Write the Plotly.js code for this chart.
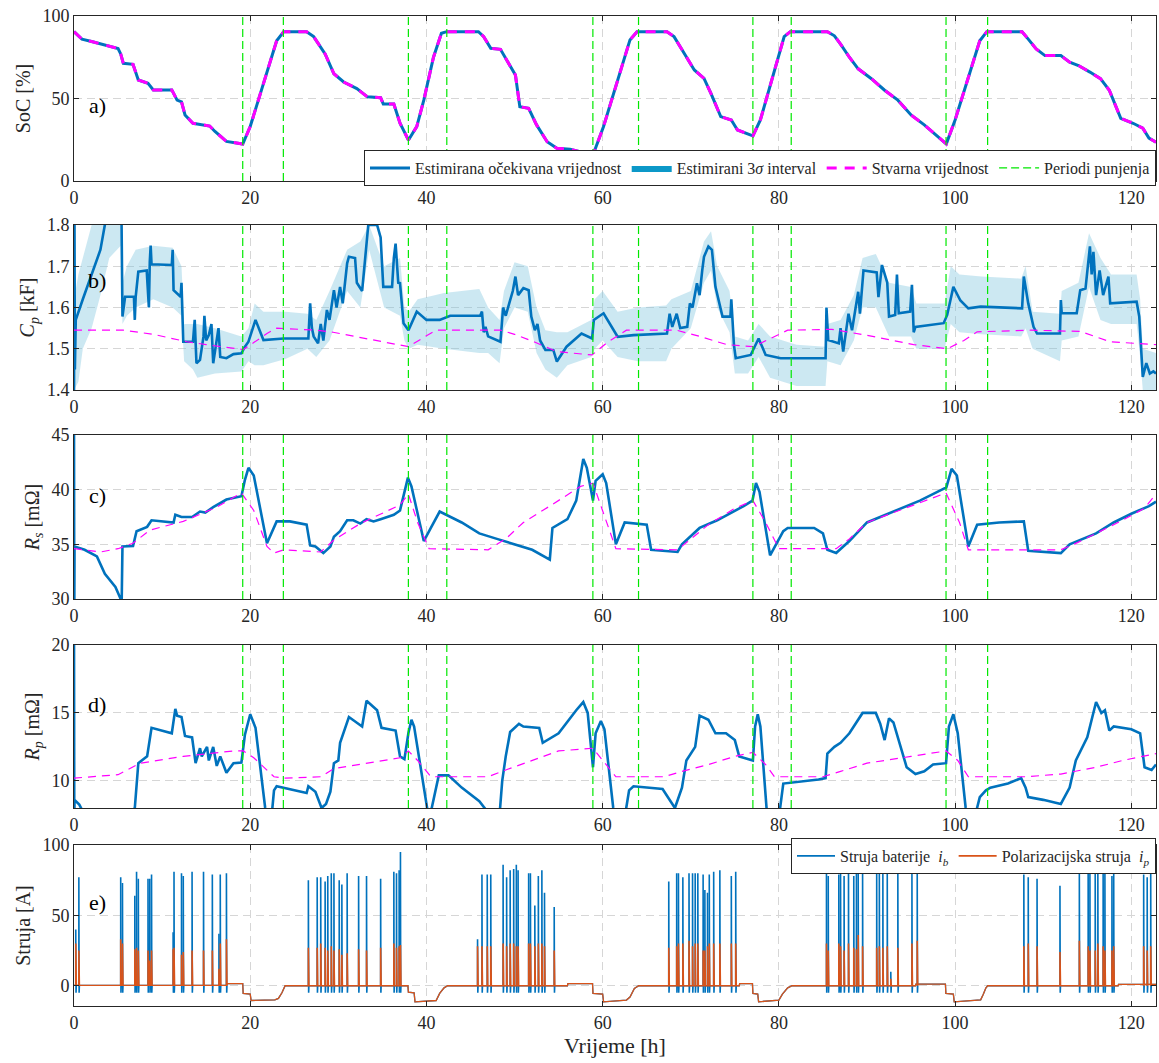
<!DOCTYPE html>
<html><head><meta charset="utf-8">
<script src="https://cdn.plot.ly/plotly-3.0.1.min.js"></script>
<style>body{margin:0;background:#fff}#g{width:1159px;height:1063px}</style>
</head><body><div id="g"></div>
<script>
// ---------- DATA ----------
const xTicks = [0,20,40,60,80,100,120];
const chargeT = [19.15,23.76,37.95,42.31,58.89,64.07,77.05,81.4,98.97,103.69];

// a) SoC [%]
const socT = [0,0.9,2,3,4,5,5.3,5.6,6.7,7.3,8.4,9.0,11.1,11.7,12.2,12.6,13.5,15.4,16.0,17.3,19.15,20.0,23.0,23.8,26.4,27.2,28.5,29.5,30.6,32.1,33.3,34.8,35.1,36.3,37.0,37.96,38.9,39.7,40.8,41.7,42.3,45.9,46.5,47.3,48.4,49.5,50.1,50.6,51.6,52.5,53.7,54.8,56.3,58.9,60.1,63.1,63.9,67.3,68.1,68.8,69.6,70.4,71.5,72.3,73.4,74.6,75.3,77.05,77.9,80.6,81.3,85.5,86.3,87,88,89,90.5,92,93.5,95,96.5,98,99.0,100,102.8,103.6,107.6,108.3,109.2,110.2,112,113,114,115.3,116.5,117.5,118.2,118.8,120.2,121.3,122,122.8];
const socEst = [90.5,86,84.5,83,81.5,80.3,77,71.3,70.7,61.2,59.2,55.2,55.2,49,48,40,35,33.3,30,24,22.4,33,85,90.5,90.5,87.5,77,65,60,56,51,50.5,46.7,46.7,35,24.8,33,49,75,89.5,90.5,90.5,87.5,80.4,79.8,69.3,64.2,45,44,34,23.8,19.8,19.2,15.8,33,85.5,90.5,90.5,87.5,81.4,74.3,67.3,62.2,53,39,37,30.9,27.3,37,87.5,90.5,90.5,88,83,75,68,62,55,49,40,34,27,22.5,37,85,90.5,90.5,86,80,76,76,72,70,66,62,55,46,38,35,32,26,23.5];
const socTrue = socEst;

// b) Cp [kF]
const cpT = [0,0.05,0.1,0.2,1,2,3,3.5,4.5,5.3,5.4,5.5,5.8,6.8,6.9,7.0,7.3,8.25,8.5,8.6,8.7,8.8,11.1,11.2,11.3,12.1,12.2,12.4,13.5,13.7,13.9,14.3,14.7,14.8,15.0,15.3,15.6,15.8,16.2,16.4,16.6,17.3,18.1,19.0,19.4,19.8,20.6,21.5,23.8,26.6,26.8,27.0,27.2,27.7,28.0,28.3,28.7,29.0,29.5,29.8,30.2,30.5,31.0,31.2,31.9,32.1,32.7,33.0,33.4,34.4,34.8,35.1,36.1,36.3,36.5,36.8,37.0,37.4,37.96,38.9,40.0,41.5,42.7,46.1,46.3,46.5,46.7,47.0,48.4,48.7,49.0,49.5,49.8,50.1,50.4,51.0,51.6,51.9,52.3,52.6,52.9,53.5,54.4,54.8,55.9,57.6,58.8,59.0,60.1,61.7,63.5,67.3,67.6,67.9,68.4,68.8,69.6,69.9,70.2,70.7,71.0,71.3,71.5,72.0,72.4,72.8,73.6,74.5,74.6,74.9,75.1,76.8,77.7,78.5,80.2,85.3,85.4,85.6,86.8,87.0,87.3,87.9,88.3,89.0,89.2,89.6,91.1,91.3,91.7,92.3,92.5,93.2,93.4,93.6,94.9,95.1,95.3,95.5,98.7,99.1,99.8,100.6,101.5,102.9,107.6,107.8,108.3,108.9,109.3,111.9,112.0,112.1,113.8,114.2,114.8,115.3,115.5,115.7,116.0,116.4,116.8,117.4,117.6,120.6,120.9,121.3,121.7,122.1,122.5,122.8];
const cpEst = [1.38,1.85,1.45,1.57,1.62,1.68,1.74,1.8,1.86,1.86,1.8,1.578,1.626,1.626,1.57,1.626,1.687,1.69,1.6,1.711,1.75,1.705,1.703,1.74,1.642,1.626,1.66,1.517,1.517,1.57,1.465,1.473,1.53,1.58,1.52,1.533,1.56,1.465,1.52,1.55,1.48,1.477,1.487,1.489,1.505,1.517,1.57,1.521,1.525,1.525,1.61,1.55,1.53,1.513,1.56,1.52,1.594,1.57,1.642,1.6,1.65,1.61,1.707,1.723,1.72,1.66,1.64,1.71,1.8,1.8,1.77,1.65,1.65,1.72,1.755,1.66,1.659,1.562,1.545,1.59,1.57,1.57,1.58,1.58,1.59,1.54,1.553,1.53,1.517,1.6,1.58,1.618,1.64,1.675,1.63,1.647,1.642,1.578,1.545,1.56,1.52,1.497,1.497,1.469,1.505,1.537,1.525,1.57,1.586,1.529,1.533,1.537,1.585,1.553,1.585,1.55,1.553,1.61,1.6,1.659,1.63,1.69,1.723,1.748,1.74,1.65,1.578,1.578,1.62,1.509,1.477,1.485,1.525,1.485,1.477,1.477,1.6,1.521,1.513,1.55,1.493,1.585,1.545,1.638,1.585,1.69,1.685,1.625,1.703,1.66,1.578,1.582,1.68,1.586,1.59,1.655,1.54,1.553,1.562,1.582,1.65,1.617,1.598,1.602,1.598,1.675,1.61,1.553,1.537,1.537,1.618,1.586,1.586,1.642,1.646,1.748,1.68,1.735,1.63,1.69,1.63,1.675,1.61,1.614,1.578,1.432,1.465,1.44,1.445,1.44];
const cpBandT = [0,0.5,1,2,3,4,5.3,5.5,6,7,9,11.2,12.2,12.5,13.5,14,16,19,19.8,20.5,21.5,24,26.5,27.5,29,31,32.5,33.5,35.2,37,37.5,38,39,42,46,47,48.3,48.8,50,51.5,52.5,53.5,54.8,56,58.7,59.1,60,61.7,64,67.2,67.8,70,71.5,72.3,73,74.4,75,76.5,77.7,79,82,85.3,85.5,87,88.5,89.5,91,92.5,95,95.6,98.8,99.5,100.5,103,107.5,108,108.8,111.9,112.1,114,115.2,116.5,117.7,120.6,121,121.3,122.8];
const cpLo = [1.4,1.42,1.5,1.55,1.63,1.72,1.75,1.56,1.58,1.6,1.62,1.6,1.58,1.47,1.45,1.43,1.44,1.445,1.47,1.46,1.46,1.475,1.5,1.48,1.52,1.64,1.6,1.74,1.6,1.58,1.52,1.5,1.51,1.5,1.49,1.49,1.465,1.55,1.6,1.59,1.49,1.45,1.43,1.46,1.48,1.5,1.52,1.48,1.47,1.47,1.5,1.55,1.66,1.69,1.6,1.54,1.44,1.44,1.48,1.43,1.41,1.41,1.47,1.46,1.52,1.6,1.6,1.53,1.53,1.5,1.5,1.56,1.54,1.535,1.53,1.55,1.5,1.47,1.52,1.53,1.65,1.57,1.56,1.56,1.48,1.4,1.4];
const cpHi = [1.62,1.68,1.72,1.8,1.8,1.8,1.8,1.66,1.7,1.74,1.75,1.745,1.7,1.56,1.56,1.56,1.55,1.53,1.55,1.61,1.59,1.59,1.585,1.57,1.64,1.74,1.76,1.8,1.7,1.72,1.6,1.59,1.62,1.635,1.645,1.6,1.57,1.64,1.71,1.7,1.6,1.545,1.54,1.54,1.57,1.62,1.64,1.59,1.6,1.605,1.62,1.64,1.76,1.785,1.7,1.64,1.53,1.52,1.56,1.53,1.51,1.505,1.56,1.57,1.63,1.72,1.73,1.66,1.65,1.61,1.61,1.7,1.68,1.675,1.67,1.7,1.59,1.585,1.64,1.66,1.78,1.72,1.68,1.68,1.62,1.5,1.49];
const cpTrueT = [0,5.6,9,12.8,15,18.1,19.2,20.4,21.9,23,27.5,29.4,33.2,37,37.96,39.5,41.1,48.4,50,52.2,54.8,58.8,60.5,62.7,68.4,71,74.1,77.1,79,81,86,89.9,95.3,99.1,101,102.5,108.6,114.2,117.6,122.8];
const cpTrue = [1.545,1.545,1.535,1.517,1.51,1.5,1.498,1.515,1.537,1.55,1.545,1.54,1.525,1.51,1.505,1.525,1.545,1.545,1.535,1.517,1.493,1.485,1.515,1.545,1.545,1.53,1.51,1.505,1.525,1.545,1.547,1.533,1.51,1.5,1.52,1.541,1.545,1.542,1.517,1.51];

// c) Rs [mOhm]
const rsT = [0,0.03,0.06,1.2,2.6,3.5,4.7,5.3,5.4,5.5,6.7,7.1,8.3,8.8,11.3,11.5,12.2,13.4,14.3,14.9,15.8,17.3,19.0,19.4,19.8,20.4,21.9,23.0,24.5,26.4,26.8,27.4,28.3,29.1,29.5,30.2,31.0,31.7,32.5,33.2,34.0,34.8,36.3,37.0,37.6,37.9,38.3,39.7,40.5,41.5,44,46,48,50,52,54,54.3,56,57,57.8,58.2,58.9,59.2,60,60.4,61.5,62.5,65,65.5,68.5,69,71,73,76,77,77.4,77.8,79,80.5,81,84,85,85.5,86.5,88,90,93,96,98.5,99.0,99.6,100.2,101.5,102.5,105,107.8,108.3,112,113,116,118,120,122,122.8];
const rsEst = [46,28,34.8,34.5,33.9,32.3,31.1,30,29,34.8,34.85,36.2,36.6,37.2,37,37.7,37.5,37.5,38,37.9,38.4,39.1,39.4,40.9,42,41.3,35.1,37.1,37.1,36.8,34.9,34.8,34.2,34.8,35.7,36.2,37.2,37.2,36.9,37.3,37.1,37.3,37.7,38.1,40,41.1,40.3,35.3,36.5,38,37,36,35.5,35,34.5,33.6,36.5,37.3,39,42.8,42,39,40.8,41.4,40.6,35,37,36.8,34.5,34.3,35,36.5,37.2,38.5,39,40.6,39.8,34,36.2,36.5,36.5,36,34.5,34.2,35.3,37,38,39,40,40.2,41.9,41.3,34.8,36.8,37,37.1,34.4,34.2,35,36,37,37.8,38.5,38.9];
const rsTrueT = [0,3,5,6.7,8.6,12.4,16.2,19.0,20.4,21.9,22.7,23.8,28,29.5,32.5,37,37.95,39,40.3,47,49,51,54,57.5,58.9,60,61.5,68.5,70,72,75,77.05,78.5,80,86.5,88,90,95,98.97,100.5,101.5,112,114,116,119,121.5,122.8];
const rsTrue = [34.6,34.3,34.6,35.1,36.3,37.1,38.4,39.7,38.1,34.8,34.2,34.5,34.3,35.4,36.9,38.6,39.6,37,34.6,34.5,35.5,37,38.5,40.3,40.6,38,34.6,34.5,35.5,36.8,38.3,39,37,34.6,34.6,35.5,37,38.5,39.7,37,34.5,34.5,35.2,36,37.2,38.3,39.6];

// d) Rp [mOhm]
const rpT = [0,0.03,0.06,0.6,1.2,6.8,6.9,7.3,8.3,8.8,11.1,11.5,11.7,12.2,12.6,13.4,13.8,14.3,14.5,15.1,15.3,15.8,16.2,16.6,17.3,18.1,19.0,19.4,20.0,20.6,21.7,22.0,22.4,22.7,23.0,26.4,26.6,27.4,28.1,28.6,29.1,29.5,30.0,30.2,31.2,32.7,33.2,34.4,34.9,36.5,37.0,37.5,37.95,38.3,38.6,40.2,40.6,41.4,42.5,44,46,47.2,48.3,48.6,49,49.5,50.5,51,52.8,53.2,55,57,57.8,58.3,58.9,59.2,59.8,60.2,61.2,61.5,62.5,63,63.5,66.8,67.2,68.2,69,69.5,70.5,71,72,72.8,74,75,75.5,76,77.05,77.3,77.6,77.9,78.6,79,80,80.5,83.5,84.5,85.3,85.5,86.3,87,88,89,89.5,91,91.5,92,92.5,93,93.5,94,94.5,95.5,96.5,97.5,98.97,99.3,99.8,100.3,101.2,101.5,102.3,102.8,103.5,104,106,107.5,108,108.3,110,112,113,113.7,114.2,115,116,116.6,117,117.5,118,120,121,121.5,122.3,122.8];
const rpEst = [21,7,8.6,8.25,7.5,7.5,8,11.3,11.8,13.9,13.5,15.3,14.8,14.7,13.3,13.2,11.3,12.4,11.8,12.5,11.5,12.5,11.1,11.8,10.6,11.3,11.35,13.4,14.9,13.9,8,7.2,7.2,9.3,9.6,9.1,9.6,9.2,8,8.3,9.2,11.3,11.5,12.8,14.7,14,15.9,15.2,13.9,13.7,11.8,11.6,13.5,14.5,14,7.5,8,10.4,10.4,9.5,8.5,7.5,7.5,10,11.8,13.6,14.2,14,13.9,12.8,13.5,15.2,15.8,15,11,13.5,14.4,13.8,8,7.3,7.3,9.3,9.6,9.4,9,8,9.5,11.5,12.5,14.8,14.5,13.5,13.5,13,11.8,11.7,11.5,14,14.9,14,8,7.3,7.3,9.8,10,10.1,10.2,12,12.5,12.8,13.5,14.5,15,15,14.2,13,14.6,14.3,13.2,12,11,10.5,10.7,11.2,11.3,14,14.9,13.5,8,7.3,7.5,8.8,9.3,9.5,9.8,10.2,9.5,8.8,8.6,8.3,9.5,11.5,12.2,13.2,15.8,15,15.2,13.7,14,13.8,13.5,11,10.8,11.2];
const rpTrueT = [0,5,7.5,12.4,18.1,19.2,20.4,22.7,23.8,28,29.5,33.2,37,37.95,39,40.5,47,49,52,55,58.9,60,61.5,67,69,72,75,77.05,78.5,79.5,85,87,90,95,98.97,100.3,101.5,108,112,116,119,122.8];
const rpTrue = [10.2,10.45,11.3,11.8,12.2,12.2,11.7,10.3,10.2,10.3,10.9,11.3,11.7,12.2,11.5,10.3,10.3,10.8,11.5,12.2,12.4,11.5,10.3,10.3,10.7,11.2,11.8,12.1,11.2,10.3,10.3,10.7,11.3,11.8,12.2,11.5,10.3,10.3,10.5,11,11.5,12];

// e) currents [A]
const curT = [0,17.3,17.35,19.15,19.2,20.0,20.1,22.8,23.2,23.6,23.96,37.9,37.95,38.6,38.7,41.1,41.5,42.0,42.4,56.0,56.05,58.85,58.9,60.0,60.1,62.7,63.1,63.6,64.1,75.5,75.55,77.0,77.05,77.6,77.7,80.0,80.4,81.0,81.5,95.5,95.55,98.9,98.95,99.8,99.9,102.9,103.2,103.5,103.7,118.5,118.55,122.8];
const curBase = [0.3,0.3,1.5,1.5,-5.5,-6,-10.5,-10,-9,-5,0,0,-4.5,-5,-11.4,-10.5,-5.5,-1.5,0,0,1.5,1.5,-5.5,-6,-11.4,-10.2,-8,-2,0,0,1.5,1.5,-5.5,-6,-11.4,-10.2,-6,-1.5,0,0,1.2,1.2,-5.5,-6,-11.4,-10,-6,-1.5,0,0,1,1];
const spikeT  = [0.2,0.55,5.3,5.5,6.9,7.1,7.3,8.4,8.6,8.8,11.25,11.35,12.2,12.4,13.4,14.7,15.7,16.45,16.6,17.3,26.6,27.6,28.0,28.5,28.8,29.2,29.5,30.1,30.4,31.0,32.3,33.2,34.8,36.3,36.6,36.9,37.05,45.8,46.3,46.9,47.3,48.7,49.1,49.5,49.9,50.2,50.4,51.6,51.8,52.3,52.7,53.1,53.4,54.5,67.5,68.4,68.6,69.1,69.8,70.2,70.5,70.8,71.4,71.6,71.9,72.1,72.6,73.3,74.6,75.1,85.4,85.6,86.8,87.0,87.4,87.9,88.5,88.8,89.0,89.5,91.1,91.4,91.8,92.3,92.7,93.5,95.1,95.7,107.8,108.3,109.3,111.9,114.1,115.1,115.3,115.9,116.2,116.8,117.0,117.8,118.0,121.4,121.8,122.2];
const spikeIb = [40,77,77,73,64,81,76,76,76,79,38,81,80,78,81,81,79,37,79,80,75,77,77,74,78,80,80,75,72,80,78,78,76,81,80,82,95,33,79,79,79,86,77,82,83,86,82,80,80,57,78,82,66,56,74,80,80,77,80,80,80,80,79,68,66,79,81,82,78,81,80,78,79,80,78,81,78,80,82,84,83,82,83,81,10,80,81,84,79,77,76,71,81,83,80,82,80,82,82,78,82,79,77,83];
const spikeIp = [30,25,33,30,26,27,25,25,18,25,26,27,22,24,25,25,25,12,30,33,27,27,30,27,25,28,25,26,22,23,26,25,27,30,27,28,29,28,28,28,28,30,28,30,30,28,28,30,30,28,30,30,28,25,27,28,30,30,32,28,30,30,25,25,28,30,30,30,30,30,30,25,30,28,25,30,27,26,36,28,27,28,27,28,5,27,30,32,28,30,28,24,32,28,25,25,30,28,25,25,28,28,25,28];
const spikeDip = -5;

// ---------- BUILD ----------
const FONT = '"Liberation Serif"';
const BLUE = '#0072BD', MAG = '#FF00FF', GREEN = 'rgb(0,232,0)', ORANGE = '#D95319';
const traces = [];
const AX = ['', '2', '3', '4', '5'];

function xa(i){ return 'x' + AX[i]; }
function ya(i){ return 'y' + AX[i]; }

traces.push({x: socT, y: socEst, xaxis:'x', yaxis:'y', mode:'lines', line:{color:BLUE, width:3}, name:'Estimirana očekivana vrijednost', legend:'legend'});
traces.push({x:[null], y:[null], xaxis:'x', yaxis:'y', mode:'lines', fill:'toself', fillcolor:'rgb(12,152,200)', line:{width:0, color:'rgb(12,152,200)'}, name:'Estimirani 3<i>σ</i> interval', legend:'legend'});
traces.push({x: socT, y: socTrue, xaxis:'x', yaxis:'y', mode:'lines', line:{color:MAG, width:3, dash:'10px,8px'}, name:'Stvarna vrijednost', legend:'legend'});
traces.push({x:[null], y:[null], xaxis:'x', yaxis:'y', mode:'lines', line:{color:GREEN, width:1.2, dash:'8px,4px'}, name:'Periodi punjenja', legend:'legend'});

const bandX = cpBandT.concat(cpBandT.slice().reverse());
const bandY = cpHi.concat(cpLo.slice().reverse());
traces.push({x: bandX, y: bandY, xaxis:'x2', yaxis:'y2', mode:'lines', fill:'toself', fillcolor:'rgba(120,195,222,0.38)', line:{width:0}, showlegend:false, hoverinfo:'skip'});
traces.push({x: cpT, y: cpEst, xaxis:'x2', yaxis:'y2', mode:'lines', line:{color:BLUE, width:2.6}, showlegend:false});
traces.push({x: cpTrueT, y: cpTrue, xaxis:'x2', yaxis:'y2', mode:'lines', line:{color:MAG, width:1.2, dash:'8px,6px'}, showlegend:false});
traces.push({x: rsT, y: rsEst, xaxis:'x3', yaxis:'y3', mode:'lines', line:{color:BLUE, width:2.6}, showlegend:false});
traces.push({x: rsTrueT, y: rsTrue, xaxis:'x3', yaxis:'y3', mode:'lines', line:{color:MAG, width:1.2, dash:'8px,6px'}, showlegend:false});
traces.push({x: rpT, y: rpEst, xaxis:'x4', yaxis:'y4', mode:'lines', line:{color:BLUE, width:2.6}, showlegend:false});
traces.push({x: rpTrueT, y: rpTrue, xaxis:'x4', yaxis:'y4', mode:'lines', line:{color:MAG, width:1.2, dash:'8px,6px'}, showlegend:false});

const ibX = [], ibY = [], ipX = [], ipY = [];
spikeT.forEach((t, k) => {
  ibX.push(t, t, t + 0.03, t + 0.06, null); ibY.push(0, spikeIb[k], spikeDip, 0, null);
  ipX.push(t, t, t + 0.06, null); ipY.push(0, spikeIp[k], 0, null);
});
traces.push({x: curT, y: curBase, xaxis:'x5', yaxis:'y5', mode:'lines', line:{color:BLUE, width:1.3}, showlegend:false});
traces.push({x: ibX, y: ibY, xaxis:'x5', yaxis:'y5', mode:'lines', line:{color:BLUE, width:1.6}, name:'Struja baterije  <i>i</i><sub><i>b</i></sub>', legend:'legend2'});
traces.push({x: curT, y: curBase, xaxis:'x5', yaxis:'y5', mode:'lines', line:{color:ORANGE, width:1.3}, showlegend:false});
traces.push({x: ipX, y: ipY, xaxis:'x5', yaxis:'y5', mode:'lines', line:{color:ORANGE, width:1.6}, name:'Polarizacijska struja  <i>i</i><sub><i>p</i></sub>', legend:'legend2'});

// ---------- LAYOUT ----------
const H = 990, BOT = 1006;
function dom(top, bottom){ return [(BOT - bottom)/H, (BOT - top)/H]; }
const domains = [dom(16,181), dom(225,390), dom(435,599), dom(645,808), dom(845,1006)];
const yRanges = [[0,100],[1.4,1.8],[30,45],[8,20],[-14.4,100]];
const yTicks = [[0,50,100],[1.4,1.5,1.6,1.7,1.8],[30,35,40,45],[10,15,20],[0,50,100]];
const yTickText = [['0','50','100'],['1.4','1.5','1.6','1.7','1.8'],['30','35','40','45'],['10','15','20'],['0','50','100']];
const yTitles = ['SoC [%]','<i>C</i><sub><i>p</i></sub> [kF]','<i>R</i><sub><i>s</i></sub> [mΩ]','<i>R</i><sub><i>p</i></sub> [mΩ]','Struja [A]'];
const panelLbl = ['a)','b)','c)','d)','e)'];
const lblY = [105, 280, 495, 705, 902];

const common = {
  showline:true, linecolor:'#262626', linewidth:1, mirror:'ticks',
  ticks:'inside', ticklen:5, tickcolor:'#262626', tickwidth:1,
  showgrid:true, gridcolor:'#d6d6d6', griddash:'8px,5px', gridwidth:1,
  zeroline:false, tickfont:{family:FONT, size:18, color:'#262626'}
};

const layout = {
  width:1159, height:1063,
  margin:{l:74, r:3, t:16, b:57},
  paper_bgcolor:'#fff', plot_bgcolor:'#fff',
  font:{family:FONT, color:'#262626', size:15},
  showlegend:true,
  legend:{x:1, xanchor:'right', y:(BOT-186)/H, yanchor:'bottom', orientation:'h',
    bgcolor:'#fff', bordercolor:'#262626', borderwidth:1,
    font:{family:FONT, size:16, color:'#262626'}, itemwidth:40, tracegroupgap:0},
  legend2:{x:1, xanchor:'right', y:(BOT-838)/H, yanchor:'top', orientation:'h',
    bgcolor:'#fff', bordercolor:'#262626', borderwidth:1,
    font:{family:FONT, size:16, color:'#262626'}, itemwidth:38, tracegroupgap:0},
  shapes:[], annotations:[]
};

for (let i = 0; i < 5; i++) {
  const xk = 'xaxis' + AX[i], yk = 'yaxis' + AX[i];
  layout[xk] = Object.assign({}, common, {
    domain:[0,1], anchor:ya(i), range:[0,122.8], tickvals:xTicks,
    ticktext:xTicks.map(String)
  });
  if (i > 0) layout[xk].matches = 'x';
  layout[yk] = Object.assign({}, common, {
    domain:domains[i], anchor:xa(i), range:yRanges[i], tickvals:yTicks[i], ticktext:yTickText[i],
    title:{text:yTitles[i], font:{family:FONT, size:20, color:'#262626'}, standoff:6}
  });
  layout.annotations.push({xref:'paper', yref:'paper', x:(97-74)/1082, y:(BOT-lblY[i])/H,
    text:panelLbl[i], showarrow:false, font:{family:FONT, size:22, color:'#000'}, xanchor:'center', yanchor:'middle'});
  if (i < 4) {
    chargeT.forEach(t => layout.shapes.push({type:'line', xref:xa(i), yref:ya(i) + ' domain',
      x0:t, x1:t, y0:0, y1:1, line:{color:GREEN, width:1.2, dash:'8px,4px'}, layer:'above'}));
  }
}
layout.xaxis5.title = {text:'Vrijeme [h]', font:{family:FONT, size:22, color:'#262626'}, standoff:4};

Plotly.newPlot('g', traces, layout, {displayModeBar:false, staticPlot:true});
</script>
</body></html>
